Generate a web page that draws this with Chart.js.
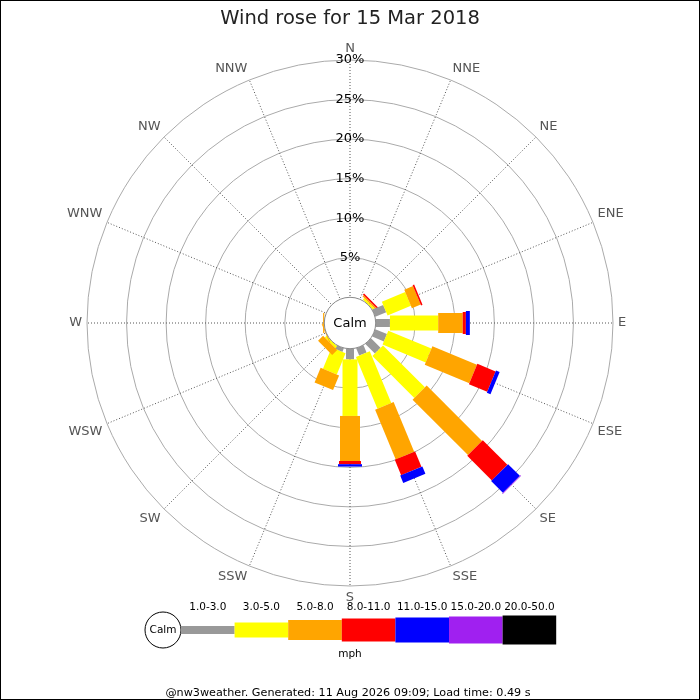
<!DOCTYPE html>
<html lang="en">
<head>
<meta charset="UTF-8">
<title>Wind rose for 15 Mar 2018</title>
<style>
  body { margin: 0; background: #fff; }
  #wrap { width: 700px; height: 700px; }
</style>
</head>
<body>
<div id="wrap"><canvas id="rose" width="700" height="700"></canvas></div>
<script src="https://cdn.jsdelivr.net/npm/chart.js@4"></script>
<script>
// compass points, clockwise from north
const directions = ['N', 'NNE', 'NE', 'ENE', 'E', 'ESE', 'SE', 'SSE', 'S', 'SSW', 'SW', 'WSW', 'W', 'WNW', 'NW', 'NNW'];
const speedBins = ['1.0-3.0', '3.0-5.0', '5.0-8.0', '8.0-11.0', '11.0-15.0', '15.0-20.0', '20.0-50.0'];
const binColors = ['#999999', '#ffff00', '#ffa500', '#ff0000', '#0000ff', '#a020f0', '#000000'];

// % of time per direction, one array per speed bin (mph)
const pct1to3   = [0, 0, 0,    1.5, 1.8, 1.6, 1.7, 1.0, 1.35, 0.5, 0,   0,   0,    0, 0, 0];
const pct3to5   = [0, 0, 0.25, 3.2, 6.1, 5.9, 7.5, 7.1, 7.15, 2.9, 0.3, 0,   0,    0, 0, 0];
const pct5to8   = [0, 0, 0.2,  1.2, 3.1, 6.1, 9.9, 6.8, 5.7,  2.0, 0.9, 0.1, 0.15, 0, 0, 0];
const pct8to11  = [0, 0, 0.2,  0.2, 0.4, 2.5, 4.4, 2.1, 0.4,  0,   0,   0,   0,    0, 0, 0];
const pct11to15 = [0, 0, 0,    0,   0.5, 0.5, 2.1, 1.0, 0.3,  0,   0,   0,   0,    0, 0, 0];
const pct15to20 = [0, 0, 0,    0,   0,   0,   0.1, 0,   0,    0,   0,   0,   0,    0, 0, 0];
const pct20to50 = [0, 0, 0,    0,   0,   0,   0,   0,   0,    0,   0,   0,   0,    0, 0, 0];
const binData = [pct1to3, pct3to5, pct5to8, pct8to11, pct11to15, pct15to20, pct20to50];

const ringTicks = [5, 10, 15, 20, 25, 30];
const calmOffset = -3.25;   // room for the calm circle below 0%

// bar widths in px, rose and legend
const roseWidths = [8, 15, 20, 22, 24, 26, 28];
const legendHeights = [8, 15, 20, 23, 25, 27, 29];

Chart.defaults.font.family = "'DejaVu Sans', sans-serif";

const rosePlugin = {
    id: 'rose',
    afterDatasetsDraw(chart) {
        const ctx = chart.ctx;
        const sc = chart.scales.r;
        ctx.save();

        // stacked bars
        directions.forEach((d, i) => {
            let cum = 0;
            chart.data.datasets.forEach((ds, b) => {
                const v = ds.data[i];
                if (!v) return;
                const r0 = sc.getDistanceFromCenterForValue(cum);
                const r1 = sc.getDistanceFromCenterForValue(cum + v);
                cum += v;
                const p0 = sc.getPointPosition(i, r0);
                const p1 = sc.getPointPosition(i, r1);
                const nx = -Math.sin(p0.angle) * roseWidths[b] / 2;
                const ny = Math.cos(p0.angle) * roseWidths[b] / 2;
                ctx.beginPath();
                ctx.moveTo(p0.x + nx, p0.y + ny);
                ctx.lineTo(p1.x + nx, p1.y + ny);
                ctx.lineTo(p1.x - nx, p1.y - ny);
                ctx.lineTo(p0.x - nx, p0.y - ny);
                ctx.closePath();
                ctx.fillStyle = ds.backgroundColor;
                ctx.fill();
            });
        });

        // calm circle
        const rc = sc.getDistanceFromCenterForValue(0);
        ctx.beginPath();
        ctx.arc(sc.xCenter, sc.yCenter, rc, 0, Math.PI * 2);
        ctx.fillStyle = '#fff';
        ctx.fill();
        ctx.strokeStyle = '#888';
        ctx.lineWidth = 1;
        ctx.stroke();
        ctx.fillStyle = '#000';
        ctx.font = "13px 'DejaVu Sans'";
        ctx.textAlign = 'center';
        ctx.textBaseline = 'middle';
        ctx.fillText('Calm', sc.xCenter, sc.yCenter + 1);

        // compass labels
        ctx.fillStyle = '#555';
        ctx.font = "13px 'DejaVu Sans'";
        directions.forEach((d, i) => {
            const deg = i * 360 / directions.length;
            const p = sc.getPointPosition(i, sc.drawingArea + 5);
            ctx.textAlign = (deg === 0 || deg === 180) ? 'center' : (deg < 180 ? 'left' : 'right');
            ctx.textBaseline = (deg === 90 || deg === 270) ? 'middle' : ((deg < 90 || deg > 270) ? 'bottom' : 'top');
            ctx.fillText(d, p.x, p.y);
        });

        // legend
        const lx = 181, ly = 630, seg = 53.6;
        ctx.beginPath();
        ctx.arc(lx - 18, ly, 18, 0, Math.PI * 2);
        ctx.fillStyle = '#fff';
        ctx.fill();
        ctx.strokeStyle = '#000';
        ctx.stroke();
        ctx.fillStyle = '#000';
        ctx.font = "10.5px 'DejaVu Sans'";
        ctx.textAlign = 'center';
        ctx.textBaseline = 'middle';
        ctx.fillText('Calm', lx - 18, ly);
        speedBins.forEach((lab, b) => {
            const x0 = lx + b * seg;
            ctx.fillStyle = binColors[b];
            ctx.fillRect(x0, ly - legendHeights[b] / 2, seg, legendHeights[b]);
            ctx.fillStyle = '#000';
            ctx.fillText(lab, x0 + seg / 2, ly - 23);
        });
        ctx.fillText('mph', 350, ly + 24);
        ctx.font = "11.2px 'DejaVu Sans'";
        ctx.fillText('@nw3weather. Generated: 11 Aug 2026 09:09; Load time: 0.49 s', 348, 693);

        // frame
        ctx.strokeStyle = '#000';
        ctx.strokeRect(0.5, 0.5, chart.width - 1, chart.height - 1);
        ctx.restore();
    }
};

new Chart(document.getElementById('rose'), {
    type: 'radar',
    data: {
        labels: directions,
        datasets: binData.map((arr, b) => ({
            label: speedBins[b],
            data: arr,
            backgroundColor: binColors[b],
            borderColor: 'rgba(0,0,0,0)',
            borderWidth: 0,
            pointRadius: 0,
            showLine: false,
            fill: false
        }))
    },
    options: {
        responsive: false,
        animation: false,
        events: [],
        layout: { padding: { left: 78, right: 78, top: 0, bottom: 105 } },
        plugins: {
            legend: { display: false },
            tooltip: { enabled: false },
            title: {
                display: true,
                text: 'Wind rose for 15 Mar 2018',
                color: '#222',
                font: { size: 19.5, weight: 'normal' },
                padding: { top: 7.5, bottom: 20.1 }
            }
        },
        scales: {
            r: {
                min: calmOffset,
                max: 30,
                afterBuildTicks: (scale) => { scale.ticks = ringTicks.map(v => ({ value: v })); },
                ticks: {
                    color: '#000',
                    font: { size: 13 },
                    showLabelBackdrop: false,
                    callback: (v) => v + '%'
                },
                grid: { color: '#aaa', lineWidth: 1, circular: true },
                angleLines: { color: '#555', lineWidth: 1, borderDash: [1, 2] },
                pointLabels: { display: false }
            }
        }
    },
    plugins: [rosePlugin]
});
</script>
</body>
</html>
